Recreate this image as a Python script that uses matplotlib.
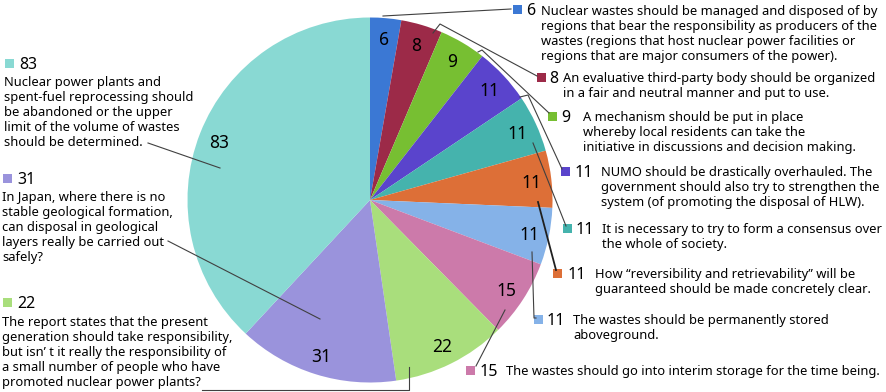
import numpy as np
import matplotlib
matplotlib.use("Agg")
import matplotlib.pyplot as plt
from matplotlib.patches import Rectangle

plt.rcParams['font.family'] = ['Noto Sans', 'DejaVu Sans']

# data
values = [6, 8, 9, 11, 11, 11, 11, 15, 22, 31, 83]
colors = ['#3b78d4', '#9c2a48', '#77bf32', '#5a44cc', '#45b3ad', '#dd6f37',
          '#85b2e8', '#cc7aaa', '#a9de7c', '#9a93dc', '#89d9d3']
texts = [
    ["Nuclear wastes should be managed and disposed of by",
     "regions that bear the responsibility as producers of the",
     "wastes (regions that host nuclear power facilities or",
     "regions that are major consumers of the power)."],
    ["An evaluative third-party body should be organized",
     "in a fair and neutral manner and put to use."],
    ["A mechanism should be put in place",
     "whereby local residents can take the",
     "initiative in discussions and decision making."],
    ["NUMO should be drastically overhauled. The",
     "government should also try to strengthen the",
     "system (of promoting the disposal of HLW)."],
    ["It is necessary to try to form a consensus over",
     "the whole of society."],
    ["How \u201creversibility and retrievability\u201d will be",
     "guaranteed should be made concretely clear."],
    ["The wastes should be permanently stored",
     "aboveground."],
    ["The wastes should go into interim storage for the time being."],
    ["The report states that the present",
     "generation should take responsibility,",
     "but isn\u2019 t it really the responsibility of",
     "a small number of people who have",
     "promoted nuclear power plants?"],
    ["In Japan, where there is no",
     "stable geological formation,",
     "can disposal in geological",
     "layers really be carried out",
     "safely?"],
    ["Nuclear power plants and",
     "spent-fuel reprocessing should",
     "be abandoned or the upper",
     "limit of the volume of wastes",
     "should be determined."],
]

W, H = 886, 392
fig = plt.figure(figsize=(W / 100, H / 100), dpi=100)
ax = fig.add_axes([0, 0, 1, 1])

def Y(y):
    # pixel rows counted from the top
    return H - y

cx, cy, r = 370, 200, 182.5
wedges, _ = ax.pie(values, colors=colors, startangle=90, counterclock=False,
                   center=(cx, Y(cy)), radius=r, frame=True)
ax.set_xlim(0, W)
ax.set_ylim(0, H)
ax.axis('off')

# numbers inside the slices
for w, v in zip(wedges, values):
    ang = np.deg2rad((w.theta1 + w.theta2) / 2)
    ax.text(cx + 0.89 * r * np.cos(ang), Y(cy) + 0.89 * r * np.sin(ang), str(v),
            ha='center', va='center_baseline', fontsize=12.5, color='black')

# legend blocks: square x, row y, number x, text x, first text line y
layout = [
    (513, 9, 526, 541, 10),
    (537, 77, 549, 563, 77),
    (548, 116, 561, 583, 116),
    (561, 171, 575, 601, 171),
    (563, 228, 576, 602, 228),
    (553, 273, 568, 595, 273),
    (534, 319, 547, 573, 319),
    (466, 370, 480, 506, 370),
    (3, 302, 17, 2, 321),
    (3, 178, 17, 2, 196),
    (5, 63, 19, 4, 81),
]
step = 15
for (sx, sy, nx, tx, ty), v, c, lines in zip(layout, values, colors, texts):
    ax.add_patch(Rectangle((sx, Y(sy) - 4.5), 9, 9, color=c, lw=0))
    ax.text(nx, Y(sy), str(v), ha='left', va='center_baseline', fontsize=11.5)
    for i, line in enumerate(lines):
        ax.text(tx, Y(ty + i * step), line, ha='left', va='center_baseline',
                fontsize=9.3)

# leader lines
leaders = [
    [(383, 16), (511, 9)],
    [(433, 33), (440, 24), (537, 76)],
    [(478, 52), (482, 50), (549, 113)],
    [(520, 97), (528, 95), (562, 169)],
    [(533, 143), (566, 226)],
    [(538, 202), (556, 270)],
    [(532, 252), (534, 318), (536, 318)],
    [(505, 310), (476, 366)],
    [(409, 367), (409, 390), (202, 390)],
    [(320, 319), (168, 241)],
    [(220, 168), (148, 143)],
]
for i, pts in enumerate(leaders):
    xs = [p[0] for p in pts]
    ys = [Y(p[1]) for p in pts]
    if i == 5:
        ax.plot(xs, ys, color='#202020', lw=1.3)
    else:
        ax.plot(xs, ys, color='#404040', lw=0.8)

fig.savefig("out.png", dpi=100)
